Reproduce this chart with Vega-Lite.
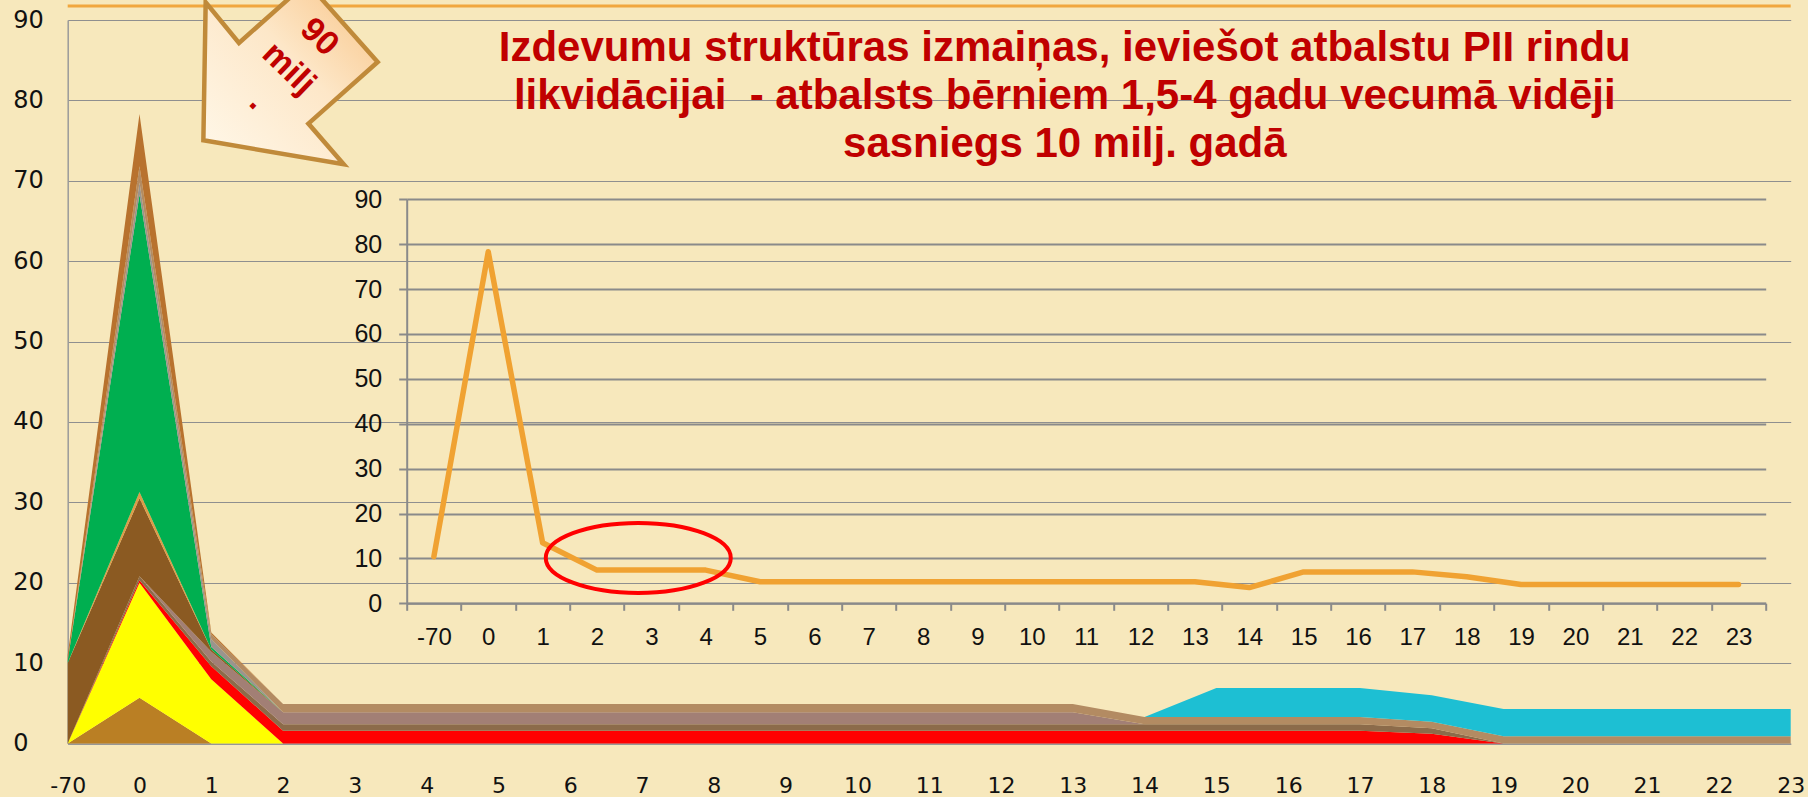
{
  "$schema": "https://vega.github.io/schema/vega-lite/v6.json",
  "width": 1723,
  "height": 723.5,
  "autosize": {"type": "none"},
  "padding": {"left": 67.7, "top": 20, "right": 17.3, "bottom": 53.5},
  "background": "#F7E8BC",
  "config": {"view": {"stroke": null}, "font": "Liberation Sans"},
  "datasets": {
    "areas": [
      {"x": -70, "s": "S01", "v": 0}, {"x": 0, "s": "S01", "v": 5.7}, {"x": 1, "s": "S01", "v": 0},
      {"x": -70, "s": "S02", "v": 0}, {"x": 0, "s": "S02", "v": 14.3}, {"x": 1, "s": "S02", "v": 8}, {"x": 2, "s": "S02", "v": 0},
      {"x": -70, "s": "S03", "v": 0}, {"x": 0, "s": "S03", "v": 0.3}, {"x": 1, "s": "S03", "v": 1.6}, {"x": 2, "s": "S03", "v": 1.6}, {"x": 3, "s": "S03", "v": 1.6}, {"x": 4, "s": "S03", "v": 1.6}, {"x": 5, "s": "S03", "v": 1.6}, {"x": 6, "s": "S03", "v": 1.6}, {"x": 7, "s": "S03", "v": 1.6}, {"x": 8, "s": "S03", "v": 1.6}, {"x": 9, "s": "S03", "v": 1.6}, {"x": 10, "s": "S03", "v": 1.6}, {"x": 11, "s": "S03", "v": 1.6}, {"x": 12, "s": "S03", "v": 1.6}, {"x": 13, "s": "S03", "v": 1.6}, {"x": 14, "s": "S03", "v": 1.6}, {"x": 15, "s": "S03", "v": 1.6}, {"x": 16, "s": "S03", "v": 1.6}, {"x": 17, "s": "S03", "v": 1.6}, {"x": 18, "s": "S03", "v": 1.2}, {"x": 19, "s": "S03", "v": 0},
      {"x": -70, "s": "S04", "v": 0}, {"x": 0, "s": "S04", "v": 0.5}, {"x": 1, "s": "S04", "v": 0.6}, {"x": 2, "s": "S04", "v": 0.8}, {"x": 3, "s": "S04", "v": 0.8}, {"x": 4, "s": "S04", "v": 0.8}, {"x": 5, "s": "S04", "v": 0.8}, {"x": 6, "s": "S04", "v": 0.8}, {"x": 7, "s": "S04", "v": 0.8}, {"x": 8, "s": "S04", "v": 0.8}, {"x": 9, "s": "S04", "v": 0.8}, {"x": 10, "s": "S04", "v": 0.8}, {"x": 11, "s": "S04", "v": 0.8}, {"x": 12, "s": "S04", "v": 0.8}, {"x": 13, "s": "S04", "v": 0.8}, {"x": 14, "s": "S04", "v": 0.8}, {"x": 15, "s": "S04", "v": 0.8}, {"x": 16, "s": "S04", "v": 0.8}, {"x": 17, "s": "S04", "v": 0.8}, {"x": 18, "s": "S04", "v": 0.7}, {"x": 19, "s": "S04", "v": 0},
      {"x": 0, "s": "S05", "v": 0}, {"x": 1, "s": "S05", "v": 1.2}, {"x": 2, "s": "S05", "v": 1.5}, {"x": 3, "s": "S05", "v": 1.5}, {"x": 4, "s": "S05", "v": 1.5}, {"x": 5, "s": "S05", "v": 1.5}, {"x": 6, "s": "S05", "v": 1.5}, {"x": 7, "s": "S05", "v": 1.5}, {"x": 8, "s": "S05", "v": 1.5}, {"x": 9, "s": "S05", "v": 1.5}, {"x": 10, "s": "S05", "v": 1.5}, {"x": 11, "s": "S05", "v": 1.5}, {"x": 12, "s": "S05", "v": 1.5}, {"x": 13, "s": "S05", "v": 1.5}, {"x": 14, "s": "S05", "v": 0},
      {"x": -70, "s": "S06", "v": 10}, {"x": 0, "s": "S06", "v": 9.7}, {"x": 1, "s": "S06", "v": 0.3}, {"x": 2, "s": "S06", "v": 0},
      {"x": -70, "s": "S07", "v": 0}, {"x": 0, "s": "S07", "v": 0.8}, {"x": 1, "s": "S07", "v": 0},
      {"x": -70, "s": "S08", "v": 0.3}, {"x": 0, "s": "S08", "v": 37}, {"x": 1, "s": "S08", "v": 0.3}, {"x": 2, "s": "S08", "v": 0},
      {"x": -70, "s": "S09", "v": 0}, {"x": 0, "s": "S09", "v": 1.5}, {"x": 1, "s": "S09", "v": 1}, {"x": 2, "s": "S09", "v": 0},
      {"x": -70, "s": "S10", "v": 0}, {"x": 0, "s": "S10", "v": 2}, {"x": 1, "s": "S10", "v": 0.6}, {"x": 2, "s": "S10", "v": 1}, {"x": 3, "s": "S10", "v": 1}, {"x": 4, "s": "S10", "v": 1}, {"x": 5, "s": "S10", "v": 1}, {"x": 6, "s": "S10", "v": 1}, {"x": 7, "s": "S10", "v": 1}, {"x": 8, "s": "S10", "v": 1}, {"x": 9, "s": "S10", "v": 1}, {"x": 10, "s": "S10", "v": 1}, {"x": 11, "s": "S10", "v": 1}, {"x": 12, "s": "S10", "v": 1}, {"x": 13, "s": "S10", "v": 1}, {"x": 14, "s": "S10", "v": 0.9}, {"x": 15, "s": "S10", "v": 0.9}, {"x": 16, "s": "S10", "v": 0.9}, {"x": 17, "s": "S10", "v": 0.9}, {"x": 18, "s": "S10", "v": 0.8}, {"x": 19, "s": "S10", "v": 0.9}, {"x": 20, "s": "S10", "v": 0.9}, {"x": 21, "s": "S10", "v": 0.9}, {"x": 22, "s": "S10", "v": 0.9}, {"x": 23, "s": "S10", "v": 0.9},
      {"x": 14, "s": "S11", "v": 0}, {"x": 15, "s": "S11", "v": 3.6}, {"x": 16, "s": "S11", "v": 3.6}, {"x": 17, "s": "S11", "v": 3.6}, {"x": 18, "s": "S11", "v": 3.3}, {"x": 19, "s": "S11", "v": 3.4}, {"x": 20, "s": "S11", "v": 3.4}, {"x": 21, "s": "S11", "v": 3.4}, {"x": 22, "s": "S11", "v": 3.4}, {"x": 23, "s": "S11", "v": 3.4},
      {"x": -70, "s": "S12", "v": 0.7}, {"x": 0, "s": "S12", "v": 6.5}, {"x": 1, "s": "S12", "v": 0.2}, {"x": 2, "s": "S12", "v": 0}
    ],
    "total": [
      {"x": -70, "v": 10.4}, {"x": 0, "v": 78.3}, {"x": 1, "v": 13.5}, {"x": 2, "v": 7.4}, {"x": 3, "v": 7.4}, {"x": 4, "v": 7.4},
      {"x": 5, "v": 4.8}, {"x": 6, "v": 4.8}, {"x": 7, "v": 4.8}, {"x": 8, "v": 4.8}, {"x": 9, "v": 4.8}, {"x": 10, "v": 4.8},
      {"x": 11, "v": 4.8}, {"x": 12, "v": 4.8}, {"x": 13, "v": 4.8}, {"x": 14, "v": 3.5}, {"x": 15, "v": 7}, {"x": 16, "v": 7},
      {"x": 17, "v": 7}, {"x": 18, "v": 5.9}, {"x": 19, "v": 4.2}, {"x": 20, "v": 4.2}, {"x": 21, "v": 4.2}, {"x": 22, "v": 4.2}, {"x": 23, "v": 4.2}
    ]
  },
  "layer": [
    {
      "layer": [
        {
          "data": {"name": "areas"},
          "mark": {"type": "area", "opacity": 1},
          "encoding": {
            "x": {
              "field": "x", "type": "ordinal",
              "scale": {"type": "point", "padding": 0, "domain": [-70, 0, 1, 2, 3, 4, 5, 6, 7, 8, 9, 10, 11, 12, 13, 14, 15, 16, 17, 18, 19, 20, 21, 22, 23]},
              "axis": {"title": null, "labelAngle": 0, "ticks": false, "tickSize": 0, "grid": false, "domainColor": "#9a9a9a", "domainWidth": 1.5, "labelFont": "DejaVu Sans", "labelFontSize": 22, "labelColor": "#111111", "labelPadding": 32}
            },
            "y": {
              "field": "v", "type": "quantitative", "stack": "zero",
              "scale": {"domain": [0, 90], "nice": false},
              "axis": {"title": null, "values": [0, 10, 20, 30, 40, 50, 60, 70, 80, 90], "ticks": false, "tickSize": 0, "labelAlign": "left", "labelPadding": 55, "labelFont": "DejaVu Sans", "labelFontSize": 24, "labelColor": "#111111", "grid": true, "gridColor": "#8f8f8f", "gridWidth": 1.2, "domainColor": "#9a9a9a", "domainWidth": 1.5}
            },
            "order": {"field": "s", "sort": "ascending"},
            "color": {
              "field": "s", "type": "nominal", "legend": null,
              "scale": {
                "domain": ["S01", "S02", "S03", "S04", "S05", "S06", "S07", "S08", "S09", "S10", "S11", "S12"],
                "range": ["#BA7F24", "#FFFF00", "#FF0000", "#8C6B4A", "#A27F75", "#8B5A22", "#DC9C48", "#00AF50", "#9A948E", "#B38B62", "#1DBFD3", "#B8722E"]
              }
            }
          }
        },
        {
          "data": {"values": [{}]},
          "mark": {"type": "rule", "color": "#F0A030", "strokeWidth": 3, "opacity": 0.9},
          "encoding": {"y": {"datum": 91.75, "type": "quantitative"}}
        },
        {
          "data": {"values": [{}]},
          "mark": {
            "type": "point",
            "shape": "M -0.797 0.6 L 0.606 0.84 L 0.253 0.433 L 0.946 -0.183 L 0.239 -0.978 L -0.441 -0.373 L -0.774 -0.78 Z",
            "size": 40000, "filled": true, "opacity": 1,
            "fill": {"gradient": "linear", "x1": 0, "y1": 1, "x2": 1, "y2": 0, "stops": [{"offset": 0, "color": "#FFF8EA"}, {"offset": 0.55, "color": "#FDE7C8"}, {"offset": 1, "color": "#F8C283"}]},
            "stroke": "#C08A3A", "strokeWidth": 4.5, "strokeJoin": "miter"
          },
          "encoding": {"x": {"datum": 2, "type": "ordinal"}, "y": {"datum": 82.5, "type": "quantitative"}}
        },
        {
          "data": {"values": [{}]},
          "mark": {"type": "text", "angle": 44, "align": "center", "baseline": "middle", "lineHeight": 44, "font": "Liberation Sans", "fontWeight": "bold", "fontSize": 34, "color": "#C00000", "dx": 26, "dy": -25},
          "encoding": {"x": {"datum": 2, "type": "ordinal"}, "y": {"datum": 87.85, "type": "quantitative"}, "text": {"value": ["90", "milj", "."]}}
        },
        {
          "data": {"values": [{}]},
          "mark": {"type": "text", "align": "center", "baseline": "alphabetic", "lineHeight": 48.3, "font": "Liberation Sans", "fontWeight": "bold", "fontSize": 42, "color": "#C00000", "dx": -8},
          "encoding": {
            "x": {"datum": 13, "type": "ordinal"},
            "y": {"datum": 84.95, "type": "quantitative"},
            "text": {"value": ["Izdevumu struktūras izmaiņas, ieviešot atbalstu PII rindu", "likvidācijai \u00a0- atbalsts bērniem 1,5-4 gadu vecumā vidēji", "sasniegs 10 milj. gadā"]}
          }
        }
      ]
    },
    {
      "layer": [
        {
          "data": {"name": "total"},
          "mark": {"type": "line", "color": "#F0A232", "strokeWidth": 5.5, "strokeJoin": "round", "strokeCap": "round"},
          "encoding": {
            "x": {
              "field": "x", "type": "ordinal",
              "scale": {"type": "band", "domain": [-70, 0, 1, 2, 3, 4, 5, 6, 7, 8, 9, 10, 11, 12, 13, 14, 15, 16, 17, 18, 19, 20, 21, 22, 23], "range": [339, 1698], "paddingInner": 0, "paddingOuter": 0},
              "axis": {"orient": "bottom", "offset": -140.2, "title": null, "labelAngle": 0, "tickBand": "extent", "tickSize": 7, "tickWidth": 2, "tickColor": "#8a8a8a", "domainColor": "#8a8a8a", "domainWidth": 2, "labelFont": "Liberation Sans", "labelFontSize": 24, "labelColor": "#111111", "labelPadding": 15, "grid": false}
            },
            "y": {
              "field": "v", "type": "quantitative",
              "scale": {"domain": [0, 90], "range": [583.3, 179.3], "nice": false},
              "axis": {"orient": "left", "offset": -339, "title": null, "values": [0, 10, 20, 30, 40, 50, 60, 70, 80, 90], "tickSize": 8, "tickWidth": 2, "tickColor": "#8a8a8a", "domainColor": "#8a8a8a", "domainWidth": 2, "grid": true, "gridColor": "#8a8a8a", "gridWidth": 2, "labelFont": "Liberation Sans", "labelFontSize": 25, "labelColor": "#111111", "labelPadding": 17}
            }
          }
        },
        {
          "data": {"values": [{}]},
          "mark": {
            "type": "point",
            "shape": "M -1 0 C -1 -0.2088 -0.5523 -0.378 0 -0.378 C 0.5523 -0.378 1 -0.2088 1 0 C 1 0.2088 0.5523 0.378 0 0.378 C -0.5523 0.378 -1 0.2088 -1 0 Z",
            "size": 34225, "filled": false, "color": "#FF0000", "stroke": "#FF0000", "strokeWidth": 4, "opacity": 1
          },
          "encoding": {"x": {"datum": 3, "type": "ordinal", "bandPosition": 0.26}, "y": {"datum": 10.1, "type": "quantitative"}}
        }
      ]
    }
  ],
  "resolve": {"scale": {"x": "independent", "y": "independent", "color": "independent"}}
}
